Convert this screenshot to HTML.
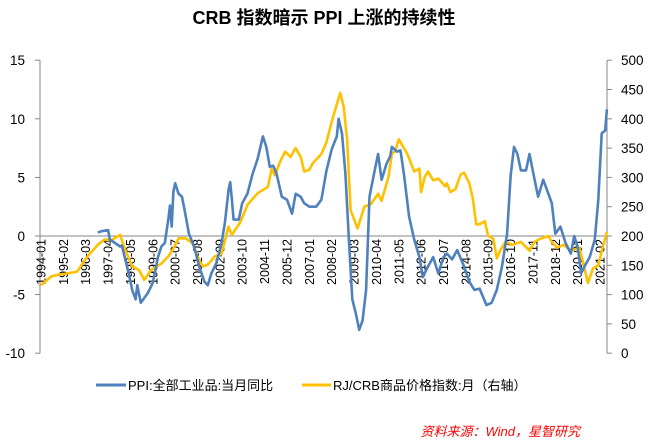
<!DOCTYPE html>
<html><head><meta charset="utf-8"><style>
html,body{margin:0;padding:0;background:#fff;}
svg{display:block;font-family:"Liberation Sans","Noto Sans CJK SC",sans-serif;}
</style></head><body>
<svg id="chart" width="648" height="440" viewBox="0 0 648 440" xmlns="http://www.w3.org/2000/svg">
<text x="324" y="24" text-anchor="middle" font-size="18" font-weight="bold" fill="#000">CRB 指数暗示 PPI 上涨的持续性</text>
<g id="axes"></g>
<g id="series"></g>
<g>
<line x1="96" y1="385" x2="126" y2="385" stroke="#4F81BD" stroke-width="3"/>
<text x="128" y="390" font-size="13" fill="#000">PPI:全部工业品:当月同比</text>
<line x1="302" y1="385" x2="331" y2="385" stroke="#FFC000" stroke-width="3"/>
<text x="333" y="390" font-size="13" fill="#000">RJ/CRB商品价格指数:月（右轴）</text>
</g>
<text x="580" y="436" text-anchor="end" font-size="13" font-style="italic" fill="#FF0000">资料来源：Wind，星智研究</text>
</svg>
<script>
const xLabels=["1994-01","1995-02","1996-03","1997-04","1998-05","1999-06","2000-07","2001-08","2002-09","2003-10","2004-11","2005-12","2007-01","2008-02","2009-03","2010-04","2011-05","2012-06","2013-07","2014-08","2015-09","2016-10","2017-11","2018-12","2020-01","2021-02"];
const leftTicks=[15,10,5,0,-5,-10];
const rightTicks=[500,450,400,350,300,250,200,150,100,50,0];
// months since 1994-01
const ppiMonths=[33,35,37,39,40,43,46,47,49,51,53,55,56,58,62,65,68,70,72,74,75,76,77,78,80,82,84,86,89,92,95,97,99,102,105,107,109,110,111,112,115,117,120,123,126,129,131,133,135,137,140,143,146,148,151,153,156,160,163,166,169,172,173,175,177,179,181,183,185,187,189,191,194,196,198,201,203,204,207,209,211,214,217,220,222,225,228,231,234,236,239,242,246,249,252,255,259,262,265,268,271,273,275,277,279,282,284,287,289,292,295,297,299,302,305,308,310,312,314,316,319,322,324,326,328,329];
const ppiValues=[0.3,0.4,0.45,0.5,-0.3,-0.6,-0.9,-0.8,-2.0,-3.2,-4.6,-5.4,-4.2,-5.7,-4.9,-4.0,-1.8,-0.9,-0.6,1.4,2.6,0.8,3.8,4.5,3.6,3.35,1.8,0.2,-0.9,-2.6,-3.9,-4.2,-3.2,-2.3,-0.6,1.2,3.9,4.6,3.1,1.4,1.4,2.8,3.6,5.3,6.6,8.5,7.6,5.9,6.0,5.3,3.35,3.1,1.9,3.6,3.35,2.8,2.5,2.5,3.1,5.6,7.4,8.5,10.0,8.75,5.3,-0.3,-5.4,-6.6,-8.0,-7.2,-4.6,3.35,5.6,7.0,4.8,6.2,6.8,7.6,7.2,7.3,5.3,1.65,-0.3,-1.8,-3.5,-2.6,-1.8,-3.2,-1.8,-1.5,-2.0,-1.2,-2.6,-3.9,-4.6,-4.5,-5.9,-5.7,-4.6,-2.6,0.2,5.1,7.6,7.0,5.6,5.6,7.0,4.8,3.35,4.8,3.6,2.8,0.2,0.8,-0.6,-1.5,0.0,-0.9,-3.2,-2.6,-1.8,-0.3,3.1,8.75,9.0,10.8];
const crbMonths=[0,6,10,15,21,27,33,37,41,46,49,53,57,60,64,70,74,77,80,84,88,91,94,97,101,105,109,111,116,120,126,132,134,136,139,142,145,148,151,153,156,158,163,166,169,172,174,176,178,180,184,188,192,196,198,202,204,206,208,213,217,220,221,223,225,228,231,235,236,238,241,244,246,249,251,253,255,258,260,263,265,267,270,274,279,284,287,290,295,297,300,304,308,313,318,321,324,327,329];
const crbValues=[116,131,134,136,139,165,185,194,193,202,176,148,142,125,142,153,165,179,196,196,188,165,148,151,165,170,216,202,224,253,273,284,314,304,327,344,335,350,335,310,313,324,340,360,395,425,444,420,363,244,213,250,255,272,260,300,340,345,365,340,310,315,275,300,310,295,298,285,290,275,280,305,308,290,265,220,220,225,200,195,162,175,190,185,190,175,190,195,200,190,180,185,175,180,120,145,150,185,207,222];

const X0=41, DX=1.72, Y0=236, PXU=11.72;
const xOf=m=>X0+m*DX;
const yL=v=>Y0-v*PXU;
const yR=v=>Y0-(v-200)/20*PXU;
const NS="http://www.w3.org/2000/svg";
const axes=document.getElementById('axes');
const series=document.getElementById('series');
function mk(tag,attrs,parent,txt){const e=document.createElementNS(NS,tag);for(const k in attrs)e.setAttribute(k,attrs[k]);if(txt!==undefined)e.textContent=txt;parent.appendChild(e);return e;}

let la=mk('line',{x1:40,y1:yL(15),x2:40,y2:yL(-10),stroke:'#868686','stroke-width':1},axes);


leftTicks.forEach(v=>{
  let t=mk('line',{x1:35,y1:yL(v),x2:40,y2:yL(v),stroke:'#868686'},axes);
  
  
  let l=mk('text',{x:25,y:yL(v)+5,'text-anchor':'end','font-size':13.5,fill:'#000'},axes,String(v));
  
  
});
let ra=mk('line',{x1:607,y1:yR(500),x2:607,y2:yR(0),stroke:'#868686','stroke-width':1},axes);


rightTicks.forEach(v=>{
  let t=mk('line',{x1:607,y1:yR(v),x2:612,y2:yR(v),stroke:'#868686'},axes);
  
  
  let l=mk('text',{x:621,y:yR(v)+5,'font-size':13.5,fill:'#000'},axes,String(v));
  
  
});
let za=mk('line',{x1:40,y1:Y0,x2:607,y2:Y0,stroke:'#868686','stroke-width':1},axes);


xLabels.forEach((s,i)=>{
  const m=i*13, x=xOf(m);
  let l=mk('text',{x:0,y:0,'text-anchor':'end','font-size':12.5,fill:'#000',transform:`translate(${x+4.5},${Y0+3}) rotate(-90)`},axes,s);
  
  
});
function path(ms,vs,yf){return ms.map((m,i)=>(i?'L':'M')+xOf(m).toFixed(1)+','+yf(vs[i]).toFixed(1)).join('');}
let crb=mk('path',{d:path(crbMonths,crbValues,yR),fill:'none',stroke:'#FFC000','stroke-width':2.6,'stroke-linejoin':'round'},series);


let ppi=mk('path',{d:path(ppiMonths,ppiValues,yL),fill:'none',stroke:'#4F81BD','stroke-width':2.6,'stroke-linejoin':'round'},series);


</script>
</body></html>
